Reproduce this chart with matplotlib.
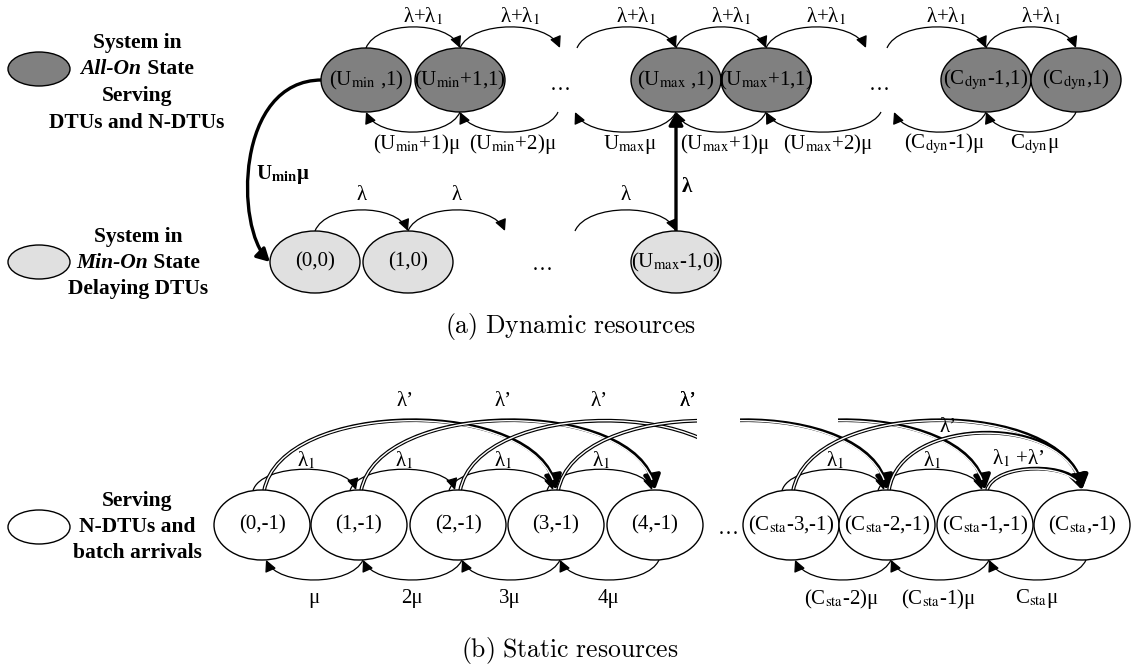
import numpy as np
import matplotlib
matplotlib.use("Agg")
import matplotlib.pyplot as plt
from matplotlib.patches import Ellipse, FancyArrowPatch, Rectangle
from matplotlib.path import Path

SERIF = "Liberation Serif"

# ---- (a) dynamic resources: labels ----
ALLON_STATES = [r"(U$_{\rm min}$ ,1)", r"(U$_{\rm min}$+1,1)", r"(U$_{\rm max}$ ,1)",
                r"(U$_{\rm max}$+1,1)", r"(C$_{\rm dyn}$-1,1)", r"(C$_{\rm dyn}$,1)"]
ALLON_UP_LABELS = ["λ+λ$_1$"] * 7
ALLON_DOWN_LABELS = [r"(U$_{\rm min}$+1)μ", r"(U$_{\rm min}$+2)μ", r"U$_{\rm max}$μ",
                     r"(U$_{\rm max}$+1)μ", r"(U$_{\rm max}$+2)μ", r"(C$_{\rm dyn}$-1)μ",
                     r"C$_{\rm dyn}$μ"]
MINON_STATES = ["(0,0)", "(1,0)", r"(U$_{\rm max}$-1,0)"]
MINON_UP_LABELS = ["λ", "λ", "λ"]
DROP_LABEL = r"U$_{\bf min}$μ"
RISE_LABEL = "λ"

# ---- (b) static resources: labels ----
STATIC_STATES = ["(0,-1)", "(1,-1)", "(2,-1)", "(3,-1)", "(4,-1)",
                 r"(C$_{\rm sta}$-3,-1)", r"(C$_{\rm sta}$-2,-1)",
                 r"(C$_{\rm sta}$-1,-1)", r"(C$_{\rm sta}$,-1)"]
STATIC_UP_LABELS = ["λ$_1$"] * 6 + ["λ$_1$ +λ’"]
BATCH_LABEL = "λ’"
STATIC_DOWN_LABELS = ["μ", "2μ", "3μ", "4μ", r"(C$_{\rm sta}$-2)μ",
                      r"(C$_{\rm sta}$-1)μ", r"C$_{\rm sta}$μ"]

# legend text, one list per line: (text, italic)
LEGEND_ALLON = [[("System in", False)], [("All-On", True), (" State", False)],
                [("Serving", False)], [("DTUs and N-DTUs", False)]]
LEGEND_MINON = [[("System in", False)], [("Min-On", True), (" State", False)],
                [("Delaying DTUs", False)]]
LEGEND_STATIC = [[("Serving", False)], [("N-DTUs and", False)], [("batch arrivals", False)]]

# ---- layout (pixels, y grows downward) ----
ALLON_X = [366, 460, 676, 766, 986, 1076]
MINON_X = [315, 408, 676]
STATIC_X = [262, 359, 458, 556, 655, 791, 887, 985, 1082]
Y_ALLON, Y_MINON, Y_STATIC = 80, 262, 525
NODE_W, NODE_H = 90, 64
MNODE_H = 62
SNODE_W, SNODE_H = 96, 70

DARK, LIGHT = "#808080", "#e0e0e0"
FS = 15
LEG_FS = 15.5


def bez(p0, p1, h, inset=0.12):
    (x0, y0), (x1, y1) = p0, p1
    d = x1 - x0
    return [p0, (x0 + inset * d, y0 - 1.33 * h), (x1 - inset * d, y1 - 1.33 * h), p1]


def split(v, t):
    # first part of a cubic bezier (de Casteljau)
    v = np.array(v, float)
    a = v[:-1] + t * (v[1:] - v[:-1])
    b = a[:-1] + t * (a[1:] - a[:-1])
    c = b[:-1] + t * (b[1:] - b[:-1])
    return [v[0], a[0], b[0], c[0]]


def t_before_end(v, gap):
    # parameter where the remaining length of the curve is about `gap` pixels
    v = np.array(v, float)
    t = np.linspace(0, 1, 400)[:, None]
    pts = ((1 - t) ** 3 * v[0] + 3 * (1 - t) ** 2 * t * v[1]
           + 3 * (1 - t) * t ** 2 * v[2] + t ** 3 * v[3])
    seg = np.r_[0, np.cumsum(np.hypot(*np.diff(pts, axis=0).T))]
    return float(t[np.searchsorted(seg, seg[-1] - gap), 0])


CODES = [Path.MOVETO, Path.CURVE4, Path.CURVE4, Path.CURVE4]


def rim(cx, cy, w, h, dx, side):
    # point on an ellipse edge, side=-1 top, +1 bottom
    return (cx + dx, cy + side * (h / 2) * np.sqrt(max(0, 1 - (2 * dx / w) ** 2)))


def arrow(ax, verts, lw=0.9, head=True, hl=0.5, hw=0.25, ms=14, clip=None, color="black"):
    style = f"-|>,head_length={hl},head_width={hw}" if head else "-"
    p = FancyArrowPatch(path=Path(verts, CODES), arrowstyle=style, mutation_scale=ms,
                        lw=lw, color=color, transform=ax.transData, capstyle="butt")
    ax.add_patch(p)
    if clip is not None:
        p.set_clip_path(Rectangle(clip[:2], clip[2], clip[3], transform=ax.transData))
    return p


def double_arrow(ax, verts, head=True, clip=None):
    arrow(ax, verts, lw=2.7, head=head, hl=0.55, hw=0.32, ms=16, clip=clip)
    inner = split(verts, t_before_end(verts, 11)) if head else verts
    arrow(ax, inner, lw=1.0, head=False, clip=clip, color="white")


def node(ax, x, y, w, h, label, fc, fs=FS):
    ax.add_patch(Ellipse((x, y), w, h, fc=fc, ec="black", lw=1.0, zorder=3))
    ax.text(x, y, label, ha="center", va="center", fontsize=fs, family=SERIF,
            math_fontfamily="stix", zorder=4)


def label(ax, x, y, s, fs=FS, **kw):
    ax.text(x, y, s, ha="center", va="center", fontsize=fs, family=SERIF,
            math_fontfamily="stix", **kw)


def legend_block(ax, fig, cx, ys, lines):
    # bold lines centred on cx; italic parts measured so the whole line stays centred
    r = fig.canvas.get_renderer()
    for y, parts in zip(ys, lines):
        texts = [ax.text(0, y, s, ha="left", va="center", fontsize=LEG_FS, family=SERIF,
                         weight="bold", style="italic" if it else "normal")
                 for s, it in parts]
        widths = [t.get_window_extent(r).width for t in texts]
        x = cx - sum(widths) / 2
        for t, w in zip(texts, widths):
            t.set_x(x)
            x += w


fig = plt.figure(figsize=(11.41, 6.66), dpi=100)
ax = fig.add_axes([0, 0, 1, 1])
ax.set_xlim(0, 1141)
ax.set_ylim(666, 0)
ax.axis("off")

# ---------- legend ----------
ax.add_patch(Ellipse((39, 69), 62, 34, fc=DARK, ec="black", lw=1.0))
legend_block(ax, fig, 137, [43, 69, 96, 123], LEGEND_ALLON)
ax.add_patch(Ellipse((39, 262), 62, 34, fc=LIGHT, ec="black", lw=1.0))
legend_block(ax, fig, 138, [237, 263, 289], LEGEND_MINON)
ax.add_patch(Ellipse((39, 527), 62, 34, fc="white", ec="black", lw=1.0))
legend_block(ax, fig, 137, [501, 527, 553], LEGEND_STATIC)

# ---------- (a) all-on row ----------
for x, s in zip(ALLON_X, ALLON_STATES):
    node(ax, x, Y_ALLON, NODE_W, NODE_H, s, DARK)
top = Y_ALLON - NODE_H / 2
bot = Y_ALLON + NODE_H / 2
A = ALLON_X
up_pairs = [(A[0], A[1]), (A[1], 560), (577, A[2]), (A[2], A[3]), (A[3], 866),
            (887, A[4]), (A[4], A[5])]
for (x0, x1), s in zip(up_pairs, ALLON_UP_LABELS):
    arrow(ax, bez((x0, top), (x1, top), 21))
    label(ax, (x0 + x1) / 2 + 10, 16, s)
down_pairs = [(A[1], A[0]), (558, A[1]), (A[2], 575), (A[3], A[2]), (881, A[3]),
              (A[4], 894), (A[5], A[4])]
for (x0, x1), s in zip(down_pairs, ALLON_DOWN_LABELS):
    arrow(ax, bez((x0, bot), (x1, bot), -20))
    label(ax, (x0 + x1) / 2 + 4, 144, s)
label(ax, 560, Y_ALLON + 5, "…")
label(ax, 879, Y_ALLON + 5, "…")

# ---------- (a) min-on row ----------
for x, s in zip(MINON_X, MINON_STATES):
    node(ax, x, Y_MINON, NODE_W, MNODE_H, s, LIGHT)
mtop = Y_MINON - MNODE_H / 2
M = MINON_X
m_pairs = [(M[0], M[1]), (M[1], 505), (575, M[2])]
for (x0, x1), s in zip(m_pairs, MINON_UP_LABELS):
    arrow(ax, bez((x0, mtop), (x1, mtop), 21))
    label(ax, (x0 + x1) / 2, 195, s)
label(ax, 542, Y_MINON + 3, "…")

# all-on -> min-on (thick curve)
p0 = (A[0] - NODE_W / 2 + 1, Y_ALLON)
p3 = (M[0] - NODE_W / 2, Y_MINON)
arrow(ax, [p0, (235, 80), (235, 228), p3], lw=2.4, hl=0.55, hw=0.3, ms=14)
ax.text(256, 175, DROP_LABEL, ha="left", va="center", fontsize=FS, family=SERIF,
        weight="bold", math_fontfamily="stix")
# min-on -> all-on (thick vertical)
vx = M[2]
arrow(ax, [(vx, mtop), (vx, mtop - 40), (vx, bot + 40), (vx, bot)], lw=2.4,
      hl=0.55, hw=0.3, ms=14)
ax.text(vx + 6, 187, RISE_LABEL, ha="left", va="center", fontsize=FS, family=SERIF,
        weight="bold")

ax.text(570, 326, r"$\mathrm{(a)\ Dynamic\ resources}$", ha="center", va="center",
        fontsize=18.5, math_fontfamily="cm")

# ---------- (b) static row ----------
S = STATIC_X
for x, s in zip(S, STATIC_STATES):
    node(ax, x, Y_STATIC, SNODE_W, SNODE_H, s, "white")
label(ax, 728, Y_STATIC + 5, "…")


def stop(i, dx):
    return rim(S[i], Y_STATIC, SNODE_W, SNODE_H, dx, -1)


def sbot(i, dx):
    return rim(S[i], Y_STATIC, SNODE_W, SNODE_H, dx, 1)


ytop = Y_STATIC - SNODE_H / 2

# single lambda_1 arcs
single = [(0, 1), (1, 2), (2, 3), (3, 4), (5, 6), (6, 7)]
for (i, j), s in zip(single, STATIC_UP_LABELS[:6]):
    arrow(ax, bez(stop(i, -9), stop(j, -3), 21, inset=0.08))
    label(ax, (S[i] + S[j]) / 2 - 4, 460, s)

# batch (double) arcs, span of three states
sp = 3 * (S[1] - S[0])
batch = [(S[0], S[3], None), (S[1], S[4], None),
         (S[2], S[2] + sp, (0, 0, 697, 666)), (S[3], S[3] + sp, (0, 0, 697, 666)),
         (S[6] - sp, S[6], (740, 0, 500, 666)), (S[7] - sp, S[7], (838, 0, 500, 666)),
         (S[5], S[8], None)]
for x0, x1, clip in batch:
    double_arrow(ax, bez((x0 + 2, ytop + 1), (x1, ytop), 70, inset=0.06),
                 head=(clip is None or clip[0] > 0), clip=clip)
    if clip is None or clip[0] == 0:
        label(ax, min((x0 + x1) / 2 - 4, 688), 402, BATCH_LABEL)
double_arrow(ax, bez(stop(6, 2), stop(8, 0), 57, inset=0.06))
label(ax, 948, 427, BATCH_LABEL)
double_arrow(ax, bez(stop(7, 2), stop(8, 0), 21, inset=0.08))
label(ax, 1018, 458, STATIC_UP_LABELS[6])

# mu arcs (bottom)
down = [(1, 0), (2, 1), (3, 2), (4, 3), (6, 5), (7, 6), (8, 7)]
for (i, j), s in zip(down, STATIC_DOWN_LABELS):
    arrow(ax, bez(sbot(i, 4), sbot(j, 4), -20))
    label(ax, (S[i] + S[j]) / 2 + 3, 599, s)

ax.text(570, 650, r"$\mathrm{(b)\ Static\ resources}$", ha="center", va="center",
        fontsize=18.5, math_fontfamily="cm")

fig.savefig("out.png", dpi=100)
